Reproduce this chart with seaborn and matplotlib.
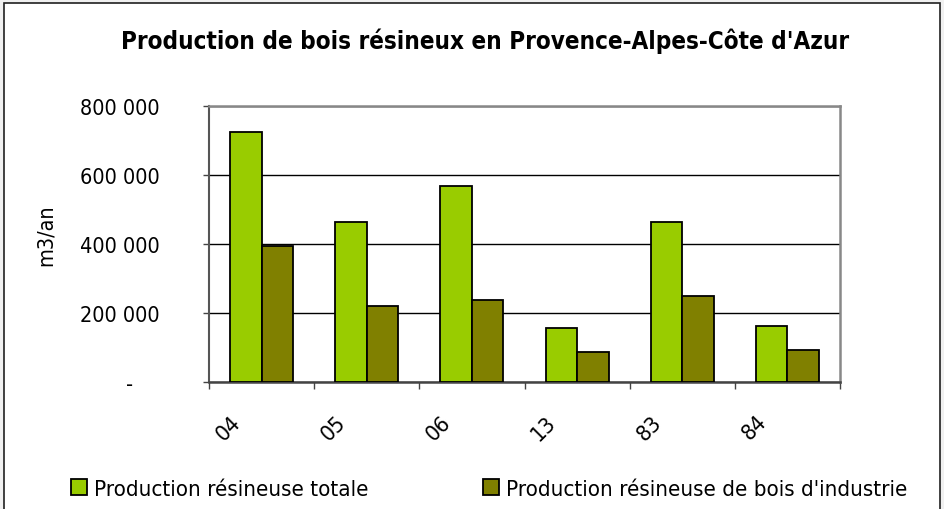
import matplotlib
matplotlib.use("Agg")
import matplotlib.pyplot as plt
import matplotlib.patches as mpatches
from matplotlib import font_manager
from matplotlib.transforms import ScaledTranslation
from matplotlib.ticker import FuncFormatter, FixedLocator
import seaborn as sns
import pandas as pd

# ---- data ----
departements = ["04", "05", "06", "13", "83", "84"]
prod_totale = [725000, 465000, 567000, 157000, 463000, 163000]
prod_industrie = [395000, 221000, 239000, 88000, 250000, 94000]
series_names = ["Production résineuse totale", "Production résineuse de bois d'industrie"]
colors = ["#99CC00", "#808000"]
title = "Production de bois résineux en Provence-Alpes-Côte d'Azur"
ylabel = "m3/an"
yticks = [0, 200000, 400000, 600000, 800000]

df = pd.DataFrame({
    "dep": departements * 2,
    "val": prod_totale + prod_industrie,
    "serie": [series_names[0]] * len(departements) + [series_names[1]] * len(departements),
})

sns.set_theme(style="white")

# choose a condensed font
fam = "DejaVu Sans"
stretch = "normal"
try:
    f = font_manager.findfont(font_manager.FontProperties(family="DejaVu Sans", stretch="condensed"), fallback_to_default=False)
    if "Condensed" in f:
        stretch = "condensed"
except Exception:
    pass
plt.rcParams["font.family"] = [fam]
plt.rcParams["font.stretch"] = stretch
plt.rcParams["text.color"] = "black"
plt.rcParams["axes.labelcolor"] = "black"
plt.rcParams["xtick.color"] = "black"
plt.rcParams["ytick.color"] = "black"

W, H = 944, 510
fig = plt.figure(figsize=(W / 100, H / 100), dpi=100)
fig.patch.set_facecolor("#f0f0f0")
# white chart frame
frame = mpatches.Rectangle((4 / W, -0.01), (940 - 4) / W, 1 - 4 / H + 0.01, transform=fig.transFigure,
                           facecolor="white", edgecolor="#202020", linewidth=1.2, zorder=-10)
fig.patches.append(frame)

ax = fig.add_axes([209 / W, 1 - 383 / H, (840 - 209) / W, (383 - 107) / H])
sns.barplot(data=df, x="dep", y="val", hue="serie", palette=colors, width=0.6,
            edgecolor="black", linewidth=1.3, saturation=1, ax=ax, zorder=3, legend=True)
ax.set_facecolor("white")
ax.set_ylim(0, 800000)
ax.set_xlim(-0.5, len(departements) - 0.5)

ax.yaxis.set_major_locator(FixedLocator(yticks))
ax.yaxis.set_major_formatter(FuncFormatter(lambda v, p: "-" if v == 0 else f"{int(v):,}".replace(",", " ")))
ax.grid(axis="y", color="black", linewidth=1.0, zorder=0)
ax.set_axisbelow(True)

for s in ["top", "right"]:
    ax.spines[s].set_color("#888888")
    ax.spines[s].set_linewidth(1.8)
ax.spines["left"].set_color("#555555")
ax.spines["left"].set_linewidth(1.5)
ax.spines["bottom"].set_color("#444444")
ax.spines["bottom"].set_linewidth(1.8)

ax.tick_params(axis="y", which="major", left=True, length=4.5, width=1, color="#444444",
               pad=31, labelsize=15.5, labelcolor="black")
ax.set_xticks(range(len(departements)))
ax.set_xticklabels(departements)
ax.set_xticks([i - 0.5 for i in range(len(departements) + 1)], minor=True)
ax.tick_params(axis="x", which="major", bottom=False, length=0, pad=21, labelsize=16, labelcolor="black")
ax.tick_params(axis="x", which="minor", bottom=True, length=5, width=1, color="#444444")
for lab in ax.get_xticklabels():
    lab.set_rotation(45)
    lab.set_ha("right")
    lab.set_va("top")
    lab.set_transform(lab.get_transform() + ScaledTranslation(-0.17, 0, fig.dpi_scale_trans))

# shift the "-" zero label left like the accounting format
t0 = ax.yaxis.get_major_ticks()[0]
t0.label1.set_transform(t0.label1.get_transform() + ScaledTranslation(-0.27, 0, fig.dpi_scale_trans))

ax.set_xlabel("")
ax.set_ylabel(ylabel, fontsize=15.5, color="black")
ax.yaxis.set_label_coords((56 - 209) / (840 - 209), (383 - 235) / (383 - 107))

fig.text(485 / W, 1 - 49 / H, title, ha="center", va="baseline", fontsize=17.4, fontweight="bold", color="black")

ax.get_legend().remove()
hs = [mpatches.Patch(facecolor=c, edgecolor="black", linewidth=1.3) for c in colors]
for h, lab, x0 in zip(hs, series_names, [71, 483]):
    fig.legend(handles=[h], labels=[lab], loc="center left", bbox_to_anchor=(x0 / W, 1 - 490 / H),
               frameon=False, fontsize=16, handlelength=0.7, handleheight=0.7, labelcolor="black",
               handletextpad=0.33, borderpad=0, borderaxespad=0)

fig.savefig("out.png", dpi=100, facecolor=fig.get_facecolor())
